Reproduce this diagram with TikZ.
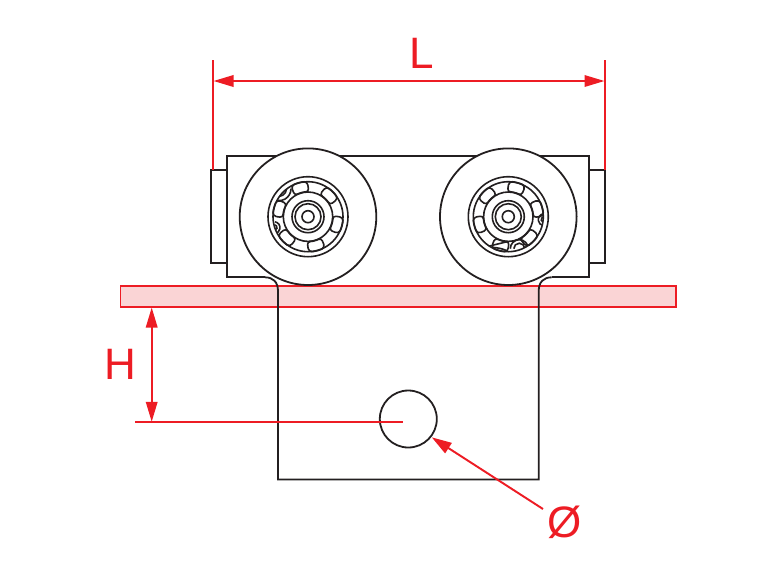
\documentclass[tikz,border=0pt]{standalone}
\usepackage{fontspec}
\setmainfont{Liberation Sans}
\usetikzlibrary{arrows.meta}
\definecolor{dimred}{HTML}{ED1C24}
\definecolor{platepink}{HTML}{FAD4D5}
\definecolor{partblack}{HTML}{231F20}
\tikzset{
	part/.style={draw=partblack,line width=1.35pt,line join=miter},
	thinpart/.style={draw=partblack,line width=1.2pt},
	dimline/.style={draw=dimred,line width=1.45pt},
	dimarrow/.style={dimline,{Triangle[length=15pt,width=8.6pt]}-{Triangle[length=15pt,width=8.6pt]}},
	leader/.style={dimline,-{Triangle[length=15pt,width=9pt]}},
	dimlabel/.style={text=dimred,inner sep=0pt,font=\fontsize{33}{33}\selectfont},
}
\begin{document}
\begin{tikzpicture}[x=0.75pt,y=0.75pt,yscale=-1,xscale=1]
	\useasboundingbox (0,0) rectangle (768,576);

	%Tabs and body
	\draw [part] (227.3,170) -- (211,170) -- (211,263.3) -- (227.3,263.3) ;
	\draw [part] (589,170) -- (605,170) -- (605,263.3) -- (589,263.3) ;
	\draw [part] (265,277.3) -- (227.3,277.3) -- (227.3,155.7) -- (589,155.7) -- (589,277.3) -- (551.7,277.3) ;

	%Plate
	\draw [dimline,fill=platepink] (120.5,286.3) rectangle (676,306.7) ;

	%Bracket
	\draw [part] (265,277.3) .. controls (273,277.3) and (278,282) .. (278,291) -- (278,479.5) -- (538.7,479.5) -- (538.7,291) .. controls (538.7,282) and (543.7,277.3) .. (551.7,277.3) ;
	\draw [part] (408.3,419) circle [radius=28.5] ;

	%Wheels
	\foreach \wx/\wstart in {308/105,508.3/135}{
		\begin{scope}[shift={(\wx,216.7)},yscale=-1]
			\draw [part,fill=white] (0,0) circle [radius=68.3] ;
			\foreach \r in {40,35,24.7,16,13,6}{
				\draw [thinpart] (0,0) circle [radius=\r] ;
			}
			\foreach \k in {0,...,5}{
				\pgfmathsetmacro{\a}{\wstart-60*\k}
				\draw [thinpart,rounded corners=2.5pt] (\a-17:24.7) arc [start angle=\a-17,end angle=\a+17,radius=24.7] -- (\a+14:35) arc [start angle=\a+14,end angle=\a-14,radius=35] -- cycle ;
			}
		\end{scope}
	}

	%Small marks on the left bearing
	\begin{scope}[shift={(308,216.7)},yscale=-1]
		\clip (0,0) circle [radius=35];
		\draw [thinpart] (-29,28) ++(0:12) arc [start angle=0,end angle=-100,radius=12] ;
		\draw [thinpart] (-29,28) ++(0:7.5) arc [start angle=0,end angle=-100,radius=7.5] ;
		\draw [thinpart] (-34,-11) ++(80:6) arc [start angle=80,end angle=-80,radius=6] ;
		\draw [thinpart] (-34,-11) ++(80:3) arc [start angle=80,end angle=-80,radius=3] ;
	\end{scope}

	%Small marks on the right bearing
	\begin{scope}[shift={(508.3,216.7)},yscale=-1]
		\clip (0,0) circle [radius=35];
		\draw [thinpart] (36,-3) ++(100:6) arc [start angle=100,end angle=260,radius=6] ;
		\draw [thinpart] (36,-3) ++(100:3) arc [start angle=100,end angle=260,radius=3] ;
		\draw [thinpart] (11,-32) ++(0:9) arc [start angle=0,end angle=180,radius=9] ;
		\draw [thinpart] (11,-32) ++(0:5.5) arc [start angle=0,end angle=180,radius=5.5] ;
		\draw [thinpart] (-25,-31) .. controls (-14,-28) and (-5,-26) .. (0,-24.7) ;
		\draw [thinpart] (-25,-31) .. controls (-16,-30) and (-6,-31) .. (0,-35) ;
	\end{scope}

	%Dimension L
	\coordinate (leftTop) at (213,60);
	\coordinate (leftBottom) at (213,170);
	\coordinate (rightTop) at (605,60);
	\coordinate (rightBottom) at (605,170);
	\coordinate (leftTip) at (213.5,81);
	\coordinate (rightTip) at (604.5,81);
	\draw [dimline] (leftTop) -- (leftBottom) ;
	\draw [dimline] (rightTop) -- (rightBottom) ;
	\draw [dimarrow] (leftTip) -- (rightTip) ;

	%Dimension H
	\coordinate (holeStart) at (135,422.3);
	\coordinate (holeEnd) at (403,422.3);
	\coordinate (plateTip) at (151.7,307.5);
	\coordinate (holeTip) at (151.7,421.8);
	\draw [dimline] (holeStart) -- (holeEnd) ;
	\draw [dimarrow] (plateTip) -- (holeTip) ;

	%Dimension diameter
	\coordinate (leaderStart) at (543,509);
	\coordinate (leaderTip) at (431.7,437.3);
	\draw [leader] (leaderStart) -- (leaderTip) ;

	% Text Node
	\node [dimlabel] (labelL) at (421.5,53) {L};
	% Text Node
	\node [dimlabel] (labelH) at (120.5,364.5) {H};
	% Text Node
	\node [dimlabel] (labelD) at (565,522) {Ø};
\end{tikzpicture}
\end{document}
